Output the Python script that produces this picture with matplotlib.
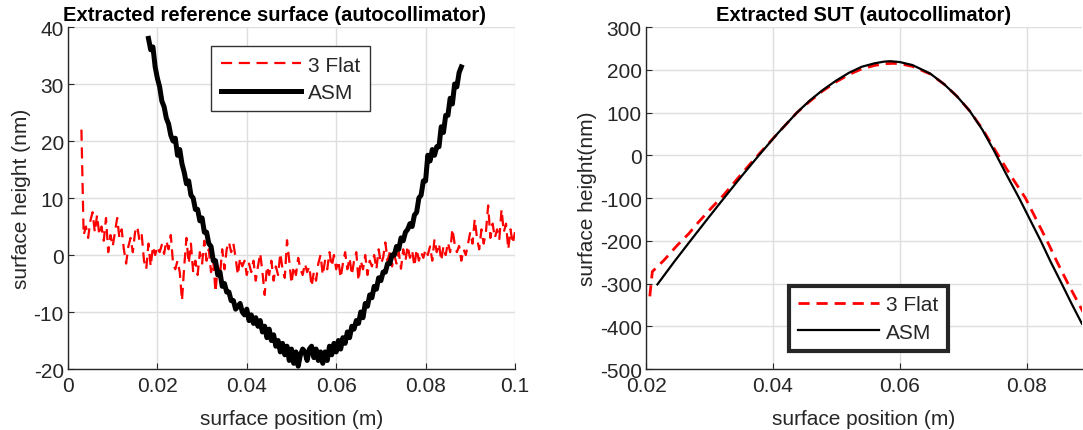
import numpy as np
import matplotlib
matplotlib.use('Agg')
import matplotlib.pyplot as plt

plt.rcParams['font.family'] = ['Liberation Sans', 'DejaVu Sans']
plt.rcParams['axes.unicode_minus'] = False

# left panel: extracted reference surface (nm), sampled every 0.5 mm
flat_ref_x0 = 0.003
flat_ref_y = [
    22, 3.5, 5, 3, 6, 7.5, 4, 7, 3.5, 5, 2.5, 6.5, 0.5, 3.5, 1.5, 4, 6.5, 3, 4.5, 1,
    -1.5, 1.5, 3, 0.5, 4, 5, 2.5, 3.5, -1, -2.5, 2, -2, 1.5, 0, 1.5, 0.5, 1.8, 0.2, 2.5, 1,
    3.5, -1.5, -2.5, -1, -3, -8, -2, 3, -1.5, 2, -3, -1, -3.5, 0.5, -1.5, 2.5, -1, 1, -3, -1,
    -6.5, -2, -3.5, 1, -2.5, 1, 2.3, 0.5, 2, -0.5, -3.5, -0.5, -2, -1, -3.5, -1.5, -3, -1, -4.5, -2,
    0.3, -3, -7, -2, -3.5, -1, -4.5, -2, -3.5, 0.3, -2.5, -4, 2.6, -1, -5, -2, -3.5, -0.5, -2.5, -3.5,
    -1.5, -3, -2, -5.5, -3, -4.5, -1.5, 0, -3.5, -1, -2.5, 0.5, -2, 0, -2.5, -1, -4, -1.5, 0.5, -2.5,
    -0.5, -3.5, -1, 0.5, -4.5, -1, -2.5, 0, -3.5, -1, -2, 0, -2.5, 1, -1.5, -0.5, 2.2, -1, 0.5, -2,
    0, -1.5, 0.5, -2.4, 1, -1, 1.6, -0.5, 0.8, -2, 1, -1, 0.5, -0.5, 1, 0, 1.5, -1, 2.8, 0.5,
    2, -1, 1.5, 0, 2.2, 0.5, 4.6, 2, 0.5, 1.6, -1, 1, 0, 2, 4, 2, 6.3, 3, 1, 4.5,
    2, 4, 8.7, 3, 5.5, 3, 4.5, 2.8, 8, 4, 5.5, 1, 4.5, 2, 4,
]
asm_ref_x0 = 0.018
asm_ref_y = [
    38.0, 36.0, 36.5, 33.0, 31.0, 29.5, 27.0, 26.0, 24.0, 23.0,
    21.0, 20.0, 20.5, 17.5, 18.5, 16.0, 14.5, 12.5, 13.0, 10.5,
    10.0, 8.0, 8.0, 6.0, 6.5, 4.0, 4.0, 2.0, 1.5, -1.0,
    -1.0, -3.5, -3.0, -5.5, -5.0, -6.5, -6.5, -8.0, -8.0, -9.5,
    -9.0, -8.5, -10.0, -10.5, -9.5, -11.5, -10.5, -12.0, -11.0, -12.5,
    -11.5, -13.5, -12.5, -14.5, -13.0, -15.0, -14.0, -16.0, -15.0, -17.0,
    -15.5, -17.5, -16.0, -18.5, -16.5, -19.0, -17.0, -19.5, -17.5, -16.5,
    -17.0, -18.5, -16.5, -16.0, -18.0, -16.5, -18.5, -17.0, -19.0, -17.0,
    -18.5, -16.0, -17.5, -15.5, -17.0, -15.0, -16.5, -14.5, -15.5, -13.5,
    -14.5, -12.5, -13.0, -11.5, -12.0, -10.0, -11.0, -8.5, -9.0, -7.0,
    -7.5, -5.5, -6.0, -4.0, -4.5, -3.0, -3.0, -1.5, -1.5, 0.0,
    0.0, 1.5, 1.0, 3.0, 2.5, 4.0, 4.5, 5.5, 5.0, 7.0,
    7.5, 10.0, 10.5, 13.0, 13.0, 17.5, 16.5, 18.5, 17.5, 19.0,
    19.0, 22.5, 21.5, 24.5, 24.5, 27.5, 26.5, 30.0, 29.5, 32.0,
    33.0,
]
step = 0.0005

# right panel: extracted SUT (nm)
flat_sut_x = [0.0206, 0.0208, 0.0210, 0.0228, 0.0249, 0.0267, 0.0283, 0.0302, 0.0323, 0.0344,
              0.0362, 0.0380, 0.0408, 0.0438, 0.0458, 0.0478, 0.0500, 0.0520, 0.0540, 0.0560,
              0.0575, 0.0590, 0.0600, 0.0620, 0.0648, 0.0670, 0.0690, 0.0710, 0.0730, 0.0755,
              0.0775, 0.0798, 0.0815, 0.0832, 0.0848, 0.0865, 0.0889]
flat_sut_y = [-330, -300, -272, -246, -211, -184, -156, -125, -92, -55,
              -24, 6, 52, 100, 126, 150, 172, 189, 202, 210,
              214, 215, 214, 208, 190, 166, 138, 104, 62, 0,
              -48, -100, -150, -200, -250, -300, -367]
asm_sut_x = [0.0218, 0.0245, 0.0270, 0.0300, 0.0323, 0.0350, 0.0378, 0.0408, 0.0438, 0.0458,
             0.0478, 0.0500, 0.0520, 0.0540, 0.0560, 0.0575, 0.0585, 0.0600, 0.0620, 0.0648,
             0.0670, 0.0690, 0.0710, 0.0730, 0.0748, 0.0768, 0.0788, 0.0805, 0.0822, 0.0838,
             0.0855, 0.0871, 0.0887]
asm_sut_y = [-302, -248, -200, -143, -100, -50, 0, 52, 100, 128,
             152, 175, 193, 207, 215, 219, 220, 218, 211, 191,
             166, 138, 104, 60, 12, -45, -100, -150, -200, -250,
             -300, -348, -394]

axis_col = '#262626'
grid_col = '#dedede'
fs = 15


def style(ax):
    for s in ['top', 'right']:
        ax.spines[s].set_visible(False)
    for s in ['left', 'bottom']:
        ax.spines[s].set_color(axis_col)
        ax.spines[s].set_linewidth(1.0)
    ax.tick_params(direction='in', length=4, colors=axis_col, labelsize=fs)
    ax.tick_params(axis='x', pad=5)
    ax.tick_params(axis='y', pad=3)
    ax.grid(True, color=grid_col, linewidth=1.0)
    ax.set_axisbelow(True)


def legend(ax, loc, anchor, edge, lw):
    leg = ax.legend(loc=loc, bbox_to_anchor=anchor, borderaxespad=0,
                    fontsize=fs, handlelength=3.85, frameon=True, fancybox=False,
                    borderpad=0.45, labelspacing=0.4, handletextpad=0.35)
    leg.get_frame().set_edgecolor(edge)
    leg.get_frame().set_linewidth(lw)
    leg.get_frame().set_alpha(1)
    for t in leg.get_texts():
        t.set_color(axis_col)
    return leg


fig = plt.figure(figsize=(10.83, 4.31), dpi=100)

# left
ax1 = fig.add_axes([0.0628, 0.1415, 0.4127, 0.7935])
fx = flat_ref_x0 + step * np.arange(len(flat_ref_y))
ax_ = asm_ref_x0 + step * np.arange(len(asm_ref_y))
ax1.plot(fx, flat_ref_y, color='red', linestyle='--', dashes=(5, 3), linewidth=1.6, label='3 Flat')
ax1.plot(ax_, asm_ref_y, color='black', linewidth=3.6, label='ASM')
ax1.set_xlim(0, 0.1)
ax1.set_ylim(-20, 40)
ax1.set_xticks([0, 0.02, 0.04, 0.06, 0.08, 0.1])
ax1.set_xticklabels(['0', '0.02', '0.04', '0.06', '0.08', '0.1'])
ax1.set_yticks(np.arange(-20, 41, 10))
style(ax1)
ax1.set_xlabel('surface position (m)', fontsize=fs, color=axis_col, labelpad=10)
ax1.set_ylabel('surface height (nm)', fontsize=fs, color=axis_col, labelpad=2)
ax1.set_title('Extracted reference surface (autocollimator)', fontsize=14.5,
              fontweight='bold', pad=5, x=0.461)
legend(ax1, 'upper center', (0.498, 0.944), '#333333', 1.0)

# right
ax2 = fig.add_axes([0.5965, 0.1415, 0.4025, 0.7935])
ax2.plot(flat_sut_x, flat_sut_y, color='red', linestyle='--', dashes=(4, 2.5), linewidth=2.0, label='3 Flat')
ax2.plot(asm_sut_x, asm_sut_y, color='black', linewidth=1.6, label='ASM')
ax2.set_xlim(0.02, 0.0887)
ax2.set_ylim(-500, 300)
ax2.set_xticks([0.02, 0.04, 0.06, 0.08])
ax2.set_xticklabels(['0.02', '0.04', '0.06', '0.08'])
ax2.set_yticks(np.arange(-500, 301, 100))
style(ax2)
ax2.set_xlabel('surface position (m)', fontsize=fs, color=axis_col, labelpad=10)
ax2.set_ylabel('surface height(nm)', fontsize=fs, color=axis_col, labelpad=2)
ax2.set_title('Extracted SUT (autocollimator)', fontsize=14.5, fontweight='bold', pad=5)
legend(ax2, 'lower center', (0.510, 0.053), '#262626', 3.0)

fig.savefig('out.png', dpi=100)
